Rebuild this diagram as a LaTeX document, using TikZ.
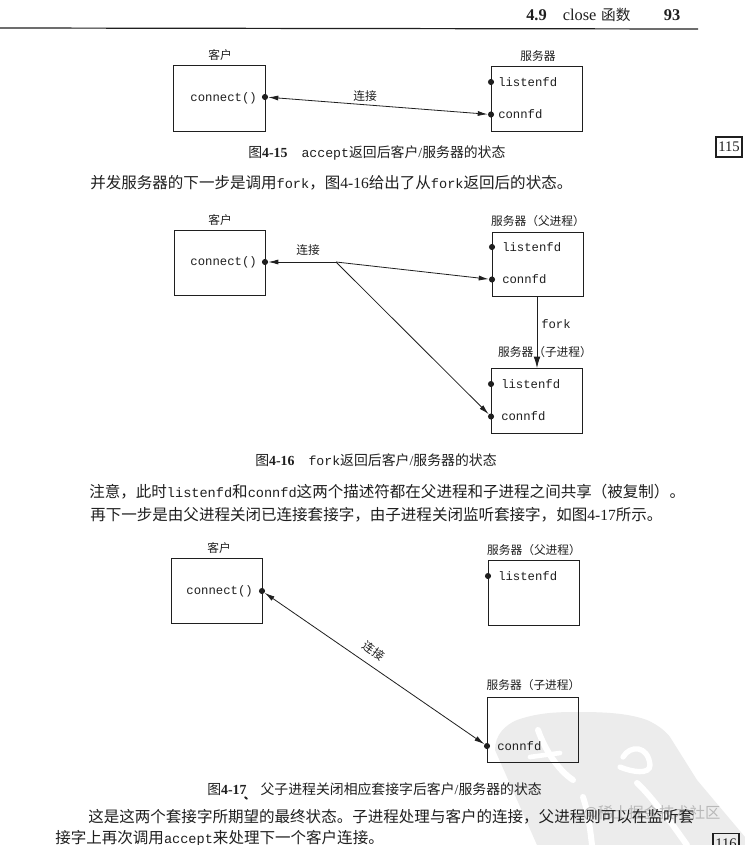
\documentclass[tikz,border=0pt]{standalone}
\usepackage{fontspec}
\setmainfont{Liberation Serif}
\setmonofont{Liberation Mono}
\newfontfamily\cjk{Noto Sans CJK SC}
\usetikzlibrary{arrows.meta}
\definecolor{ink}{gray}{0.12}
\definecolor{stamp}{gray}{0.925}
\tikzset{
  x=0.75pt,y=-0.75pt,
  procbox/.style={draw=ink,line width=0.75pt,fill=none,inner sep=0pt,anchor=north west},
  fdpin/.style={circle,fill=ink,inner sep=0pt,minimum size=4.6pt},
  fdtext/.style={anchor=west,inner sep=0pt,font=\ttfamily\fontsize{9.2}{10}\selectfont,text=ink},
  titletext/.style={inner sep=0pt,font=\cjk\fontsize{8.8}{10}\selectfont,text=ink},
  captext/.style={anchor=west,inner sep=0pt,font=\cjk\fontsize{10.4}{12}\selectfont,text=ink},
  bodytext/.style={anchor=west,inner sep=0pt,font=\cjk\fontsize{11.65}{13}\selectfont,text=ink},
  marginbox/.style={draw=ink,line width=0.8pt,inner sep=0pt,font=\fontsize{11}{12}\selectfont,text=ink,minimum width=19.5pt,minimum height=15pt},
  wire/.style={draw=ink,line width=0.6pt},
  twotip/.style={wire,{Latex[length=7.5pt,width=3.8pt]}-{Latex[length=7.5pt,width=3.8pt]}},
  onetip/.style={wire,-{Latex[length=7.5pt,width=3.8pt]}},
  leadtip/.style={wire,{Latex[length=7.5pt,width=3.8pt]}-},
  forktip/.style={wire,-{Latex[length=8.5pt,width=5pt]}},
}
\newcommand{\mono}[1]{{\ttfamily\fontsize{10.2}{12}\selectfont #1}}
\newcommand{\capmono}[1]{{\ttfamily\fontsize{9.9}{11}\selectfont #1}}
\newcommand{\dig}[1]{{\rmfamily #1}}
\newcommand{\capdig}[1]{{\rmfamily\bfseries #1}}
\newcommand{\pbox}[5]{\node[procbox,minimum width=#4*0.75pt,minimum height=#5*0.75pt] (#1) at (#2,#3) {};}
\begin{document}
\begin{tikzpicture}
\useasboundingbox (0,0) rectangle (745,845);
\fill[white] (0,0) rectangle (745,845);
% stamp
\begin{scope}
\clip (0,0) rectangle (745,845);
\fill[stamp] (495,750) .. controls (495,735) and (505,725) .. (517,720) .. controls (540,712) and (560,712) .. (580,712) .. controls (610,712) and (630,714) .. (647,720) .. controls (660,726) and (666,732) .. (670,737) -- (697,780) -- (745,837) -- (745,845) -- (537,845) -- cycle;
\draw[white,line width=4.5pt,line cap=round] (538,730) .. controls (545,750) and (558,770) .. (573,780);
\draw[white,line width=3.5pt,line cap=round] (530,757) -- (560,753);
\draw[white,line width=4pt,line cap=round] (623,757) .. controls (630,745) and (648,745) .. (650,765) .. controls (650,775) and (632,772) .. (620,767);
\draw[white,line width=4.5pt,line cap=round] (637,783) .. controls (650,795) and (660,810) .. (667,817) -- (687,845);
\draw[white,line width=4.5pt,line cap=round] (583,797) .. controls (588,812) and (590,828) .. (592,845);
\end{scope}
% header
\node[anchor=west,inner sep=0pt,text=ink,font=\fontsize{12.3}{14}\selectfont] (hd) at (526,15) {\textbf{4.9}\hspace{12pt}close\hspace{3.5pt}{\cjk\fontsize{11}{12}\selectfont 函数}\hspace{25pt}\textbf{93}};
\coordinate (ruleA) at (0,28); \coordinate (ruleB) at (698,29);
\draw[ink,line width=0.9pt] (ruleA) -- (ruleB);
\node[marginbox] (m115) at (729,147) {115};
\node[marginbox,anchor=north] (m116) at (726,833) {116};

% Figure 4-15
\pbox{c1}{173}{65}{92}{66}
\pbox{s1}{491}{66}{91}{65}
\node[titletext] (tc1) at (220,55) {客户};
\node[titletext] (ts1) at (538,56) {服务器};
\node[fdtext,anchor=east] (c1t) at (257,98) {connect()};
\node[fdtext] (s1l) at (498,82) {listenfd};
\node[fdtext] (s1c) at (498,114.500) {connfd};
\node[fdpin] (p1c) at (265,97) {};
\node[fdpin] (p1l) at (491,82) {};
\node[fdpin] (p1f) at (491,114.500) {};
\draw[twotip] (p1c) -- (p1f);
\node[titletext] (l1) at (365,96) {连接};
\node[captext] (f15) at (248,153) {图\capdig{4-15}\hspace{10.5pt}\capmono{accept}返回后客户\dig{/}服务器的状态};
\node[bodytext] (b1) at (90,183) {并发服务器的下一步是调用\mono{fork}，图\dig{4-16}给出了从\mono{fork}返回后的状态。};

% Figure 4-16
\pbox{c2}{174}{230}{91}{65}
\pbox{s2}{492}{232}{91}{64}
\pbox{s3}{491}{368}{91}{65}
\node[titletext] (tc2) at (220,220) {客户};
\node[titletext] (ts2) at (538,221) {服务器（父进程）};
\node[titletext] (ts3) at (545,352.500) {服务器（子进程）};
\node[fdtext,anchor=east] (c2t) at (257,262.500) {connect()};
\node[fdtext] (s2l) at (502,247) {listenfd};
\node[fdtext] (s2c) at (502,279.500) {connfd};
\node[fdtext] (s3l) at (501,384) {listenfd};
\node[fdtext] (s3c) at (501,416.500) {connfd};
\node[fdpin] (p2c) at (265,262) {};
\node[fdpin] (p2l) at (492,247) {};
\node[fdpin] (p2f) at (492,279.500) {};
\node[fdpin] (p3l) at (491,384) {};
\node[fdpin] (p3f) at (491,416.500) {};
\coordinate (split) at (336,262);
\draw[leadtip] (p2c) -- (split);
\draw[onetip] (split) -- (p2f);
\draw[onetip] (split) -- (p3f);
\coordinate (s2b) at (537,296); \coordinate (s3t) at (537,368);
\draw[forktip] (s2b) -- (s3t);
\node[fdtext] (fk) at (541,324) {fork};
\node[titletext] (l2) at (308,250) {连接};
\node[captext] (f16) at (255,460) {图\capdig{4-16}\hspace{10.5pt}\capmono{fork}返回后客户\dig{/}服务器的状态};
\node[bodytext] (b2) at (89,492) {注意，此时\mono{listenfd}和\mono{connfd}这两个描述符都在父进程和子进程之间共享（被复制）。};
\node[bodytext] (b3) at (90,515) {再下一步是由父进程关闭已连接套接字，由子进程关闭监听套接字，如图\dig{4-17}所示。};

% Figure 4-17
\pbox{c4}{171}{558}{91}{65}
\pbox{s4}{488}{560}{91}{65}
\pbox{s5}{487}{697}{91}{65}
\node[titletext] (tc4) at (219,548) {客户};
\node[titletext] (ts4) at (534,550) {服务器（父进程）};
\node[titletext] (ts5) at (533.500,685) {服务器（子进程）};
\node[fdtext,anchor=east] (c4t) at (253,591) {connect()};
\node[fdtext] (s4l) at (498,576) {listenfd};
\node[fdtext] (s5c) at (497,746) {connfd};
\node[fdpin] (p4c) at (262,591) {};
\node[fdpin] (p4l) at (488,576) {};
\node[fdpin] (p5f) at (487,746) {};
\draw[twotip] (p4c) -- (p5f);
\node[titletext,rotate=-36] (l4) at (374,651) {连接};
\node[captext] (f17) at (207,789) {图\capdig{4-17}\hspace{10.5pt}父子进程关闭相应套接字后客户\dig{/}服务器的状态};
\fill[ink,rotate around={-40:(246,798)}] (246,798) ellipse [x radius=1.6pt,y radius=0.8pt];
\node[anchor=west,inner sep=0pt,text=black!28,font=\cjk\fontsize{11.5}{13}\selectfont] (wm) at (583,813) {@稀土掘金技术社区};
\node[bodytext] (b4) at (88,817) {这是这两个套接字所期望的最终状态。子进程处理与客户的连接，父进程则可以在监听套};
\node[bodytext] (b5) at (55,838.500) {接字上再次调用\mono{accept}来处理下一个客户连接。};
\end{tikzpicture}
\end{document}
